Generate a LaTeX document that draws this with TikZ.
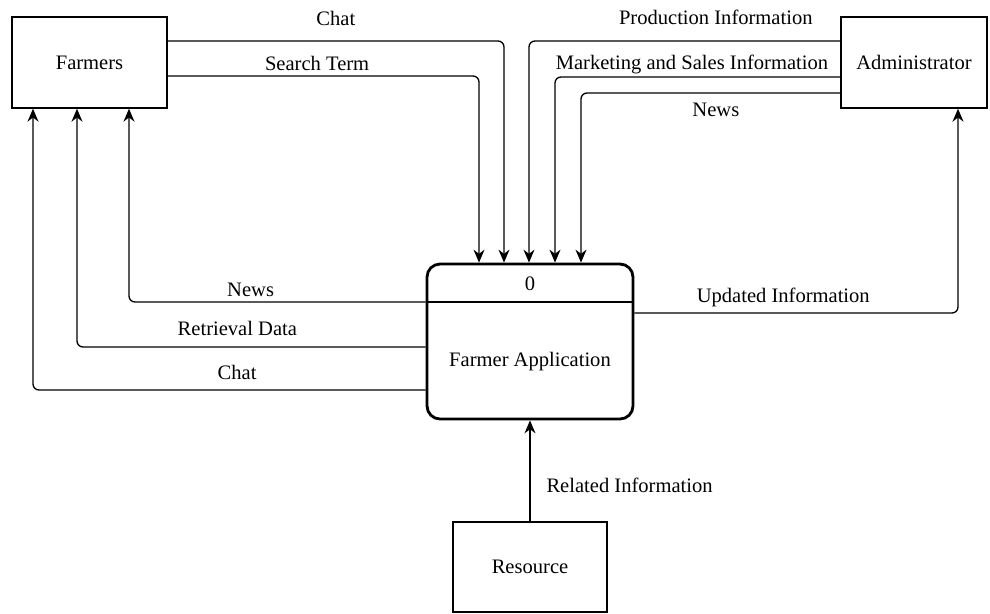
\documentclass[tikz,border=0pt]{standalone}
\usepackage{fontspec}
\setmainfont{Liberation Serif}
\usetikzlibrary{positioning, arrows.meta}

\begin{document}
\begin{tikzpicture}
            [x=0.02cm, y=-0.02cm,
             every node/.style={font=\fontsize{11.7}{14}\selectfont},
             entity/.style={draw, line width=0.8pt, minimum width=3.1cm, minimum height=1.82cm},
             process/.style={draw, line width=1.6pt, rounded corners=2.6mm, minimum width=4.12cm, minimum height=3.1cm},
             flow/.style={draw, line width=0.75pt, rounded corners=1.2mm, -{Stealth[length=2.6mm, width=2.2mm]}}]
            \useasboundingbox (0,0) rectangle (990,613);

            \node[entity] (farmers) at (89.5,62.5) {Farmers};
            \node[entity, minimum width=2.92cm] (admin) at (914,62.5) {Administrator};
            \node[process] (app) at (530,341.5) {};
            \node[entity, minimum width=3.08cm, minimum height=1.8cm] (resource) at (530,567) {Resource};

            \draw[line width=1.6pt] (app.west |- 0,302) -- (app.east |- 0,302);
            \node (appid) at (530,284) {0};
            \node (appname) at (530,362) {Farmer Application};

            \draw[flow] (farmers.east |- 0,41) -| node[pos=0.25, yshift=0.46cm] {Chat} (504,0 |- app.north);
            \draw[flow] (farmers.east |- 0,76) -| node[pos=0.24, yshift=0.26cm] {Search Term} (479,0 |- app.north);

            \draw[flow] (admin.west |- 0,41) -| node[pos=0.2, yshift=0.48cm] {Production Information} (529,0 |- app.north);
            \draw[flow] (admin.west |- 0,77) -| node[pos=0.26, yshift=0.26cm] {Marketing and Sales Information} (555,0 |- app.north);
            \draw[flow] (admin.west |- 0,93) -| node[pos=0.24, yshift=-0.34cm] {News} (581,0 |- app.north);

            \draw[flow] (app.west |- 0,302) -| node[pos=0.295, yshift=0.24cm] {News} (129,0 |- farmers.south);
            \draw[flow] (app.west |- 0,347) -| node[pos=0.27, yshift=0.38cm] {Retrieval Data} (77,0 |- farmers.south);
            \draw[flow] (app.west |- 0,390) -| node[pos=0.24, yshift=0.36cm] {Chat} (33,0 |- farmers.south);

            \draw[flow] (app.east |- 0,313) -| node[pos=0.23, yshift=0.32cm] {Updated Information} (958,0 |- admin.south);

            \draw[flow] (resource.north) -- node[pos=0.36, right=0.2cm] {Related Information} (app.south);

            % \draw[help lines] (0,0) grid[step=50] (990,613);
\end{tikzpicture}
\end{document}
